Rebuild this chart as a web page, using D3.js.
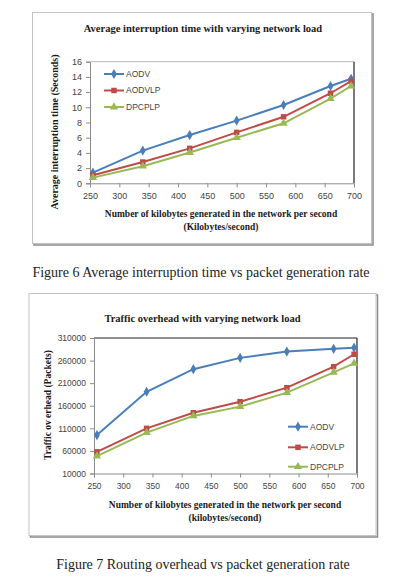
<!DOCTYPE html>
<html>
<head>
<meta charset="utf-8">
<script src="https://cdn.jsdelivr.net/npm/d3@7"></script>
<style>
  html, body { margin: 0; padding: 0; background: #fff; }
  svg { display: block; }
  .ttl { font-family: "Liberation Serif", serif; font-weight: bold; fill: #1a1a1a; }
  .cap { font-family: "Liberation Serif", serif; fill: #222; }
  .tick text { font-family: "Liberation Sans", sans-serif; fill: #444; }
  .leg { font-family: "Liberation Sans", sans-serif; fill: #444; }
</style>
</head>
<body>
<script>
'use strict';

// load in kilobytes / second
var loads = [255, 340, 420, 500, 580, 660, 695];
var loadTicks = [250, 300, 350, 400, 450, 500, 550, 600, 650, 700];

// Figure 6: average interruption time (seconds)
var interruptAODV = [1.4, 4.3, 6.35, 8.25, 10.3, 12.8, 13.75];
var interruptAODVLP = [1.05, 2.8, 4.6, 6.7, 8.75, 11.85, 13.45];
var interruptDPCPLP = [0.75, 2.25, 4.05, 6.0, 7.9, 11.15, 12.8];
var interruptTicks = [0, 2, 4, 6, 8, 10, 12, 14, 16];

// Figure 7: traffic overhead (packets)
var overheadAODV = [95000, 191000, 241000, 266000, 280000, 286000, 288500];
var overheadAODVLP = [58000, 110000, 144500, 169000, 200000, 246500, 274000];
var overheadDPCPLP = [48500, 100500, 137500, 158000, 189000, 234000, 254000];
var overheadTicks = [10000, 60000, 110000, 160000, 210000, 260000, 310000];

var seriesNames = ['AODV', 'AODVLP', 'DPCPLP'];
var seriesColors = ['#4a7ebb', '#be4b48', '#98b954'];
var seriesMarkers = [d3.symbolDiamond, d3.symbolSquare, d3.symbolTriangle];
var markerSizes = [30, 30, 30];

var svg = d3.select('body').append('svg')
  .attr('width', 398)
  .attr('height', 584);

function frame(x, y, w, h) {
  // soft drop shadow on right and bottom
  svg.append('rect')
    .attr('x', x + 1.5).attr('y', y + 1.5)
    .attr('width', w).attr('height', h)
    .attr('fill', 'none').attr('stroke', '#8a8a8a').attr('stroke-width', 1.5);
  svg.append('rect')
    .attr('x', x).attr('y', y)
    .attr('width', w).attr('height', h)
    .attr('fill', '#fff').attr('stroke', '#c4c4c4').attr('stroke-width', 1);
}

function drawChart(c) {
  frame(c.frame[0], c.frame[1], c.frame[2], c.frame[3]);

  var xScale = d3.scaleLinear().domain([250, 700]).range([c.plot.left, c.plot.right]);
  var yScale = d3.scaleLinear().domain(c.yDomain).range([c.plot.bottom, c.plot.top]);

  // plot border: top and right
  svg.append('line')
    .attr('x1', c.plot.left).attr('x2', c.plot.right)
    .attr('y1', c.plot.top).attr('y2', c.plot.top)
    .attr('stroke', c.topColor).attr('stroke-width', 1);
  svg.append('line')
    .attr('x1', c.plot.right).attr('x2', c.plot.right)
    .attr('y1', c.plot.top).attr('y2', c.plot.bottom)
    .attr('stroke', '#222').attr('stroke-width', 1.2);

  var xAxis = d3.axisBottom(xScale).tickValues(loadTicks).tickSize(4).tickPadding(5)
    .tickFormat(d3.format('d'));
  var yAxis = d3.axisLeft(yScale).tickValues(c.yTicks).tickSize(4).tickPadding(4)
    .tickFormat(d3.format('d'));

  var gx = svg.append('g')
    .attr('transform', 'translate(0,' + c.plot.bottom + ')')
    .call(xAxis);
  var gy = svg.append('g')
    .attr('transform', 'translate(' + c.plot.left + ',0)')
    .call(yAxis);
  [gx, gy].forEach(function(g) {
    g.select('.domain').attr('stroke', '#8c8c8c');
    g.selectAll('.tick line').attr('stroke', '#8c8c8c');
    g.selectAll('.tick text').attr('font-size', c.tickSize);
  });

  var line = d3.line()
    .x(function(d) { return xScale(d[0]); })
    .y(function(d) { return yScale(d[1]); });

  c.series.forEach(function(values, i) {
    var pts = d3.zip(loads, values);
    svg.append('path')
      .datum(pts)
      .attr('d', line)
      .attr('fill', 'none')
      .attr('stroke', seriesColors[i])
      .attr('stroke-width', 2);
    svg.append('g').selectAll('path')
      .data(pts)
      .enter().append('path')
        .attr('transform', function(d) { return 'translate(' + xScale(d[0]) + ',' + yScale(d[1]) + ')'; })
        .attr('d', d3.symbol().type(seriesMarkers[i]).size(markerSizes[i]))
        .attr('fill', seriesColors[i]);
  });

  // legend
  seriesNames.forEach(function(name, i) {
    var ly = c.legend.y[i];
    svg.append('line')
      .attr('x1', c.legend.x).attr('x2', c.legend.x + 20)
      .attr('y1', ly).attr('y2', ly)
      .attr('stroke', seriesColors[i]).attr('stroke-width', 2);
    svg.append('path')
      .attr('transform', 'translate(' + (c.legend.x + 10) + ',' + ly + ')')
      .attr('d', d3.symbol().type(seriesMarkers[i]).size(markerSizes[i]))
      .attr('fill', seriesColors[i]);
    svg.append('text')
      .attr('class', 'leg')
      .attr('x', c.legend.x + 22).attr('y', ly)
      .attr('dy', '0.35em')
      .attr('font-size', 8.5)
      .text(name);
  });

  // title
  svg.append('text')
    .attr('class', 'ttl')
    .attr('x', c.title.x).attr('y', c.title.y)
    .attr('text-anchor', 'middle')
    .attr('font-size', 10.5)
    .text(c.title.text);

  // y label
  svg.append('text')
    .attr('class', 'ttl')
    .attr('transform', 'translate(' + c.ylabel.x + ',' + c.ylabel.y + ') rotate(-90)')
    .attr('text-anchor', 'middle')
    .attr('font-size', c.ylabel.size)
    .text(c.ylabel.text);

  // x label, two lines
  c.xlabel.lines.forEach(function(t, k) {
    svg.append('text')
      .attr('class', 'ttl')
      .attr('x', c.xlabel.x).attr('y', c.xlabel.y[k])
      .attr('text-anchor', 'middle')
      .attr('font-size', 9.5)
      .text(t);
  });

  // figure caption
  svg.append('text')
    .attr('class', 'cap')
    .attr('x', c.caption.x).attr('y', c.caption.y)
    .attr('text-anchor', 'middle')
    .attr('font-size', 14)
    .text(c.caption.text);
}

drawChart({
  frame: [32.5, 12.5, 339, 231],
  plot: {left: 90, right: 354, top: 61.7, bottom: 183.3},
  yDomain: [0, 16],
  yTicks: interruptTicks,
  series: [interruptAODV, interruptAODVLP, interruptDPCPLP],
  topColor: '#b8b8b8',
  tickSize: 9,
  legend: {x: 104, y: [74, 90.5, 107]},
  title: {x: 203, y: 31.5, text: 'Average interruption time with varying network load'},
  ylabel: {x: 57.5, y: 132, size: 10, text: 'Average interruption time (Seconds)'},
  xlabel: {x: 221, y: [216.5, 229.5], lines: ['Number of kilobytes generated in the network per second', '(Kilobytes/second)']},
  caption: {x: 201, y: 277, text: 'Figure 6 Average interruption time vs packet generation rate'}
});

drawChart({
  frame: [29, 293.5, 347, 242],
  plot: {left: 94, right: 357, top: 338, bottom: 473.5},
  yDomain: [10000, 310000],
  yTicks: overheadTicks,
  series: [overheadAODV, overheadAODVLP, overheadDPCPLP],
  topColor: '#222',
  tickSize: 8.5,
  legend: {x: 288, y: [426.7, 447.3, 466.7]},
  title: {x: 202.5, y: 321.5, text: 'Traffic overhead with varying network load'},
  ylabel: {x: 51, y: 405, size: 9.5, text: 'Traffic ov erhead (Packets)'},
  xlabel: {x: 225, y: [507.5, 521], lines: ['Number of kilobytes generated in the network per second', '(kilobytes/second)']},
  caption: {x: 203, y: 568.5, text: 'Figure 7 Routing overhead vs packet generation rate'}
});
</script>
</body>
</html>
